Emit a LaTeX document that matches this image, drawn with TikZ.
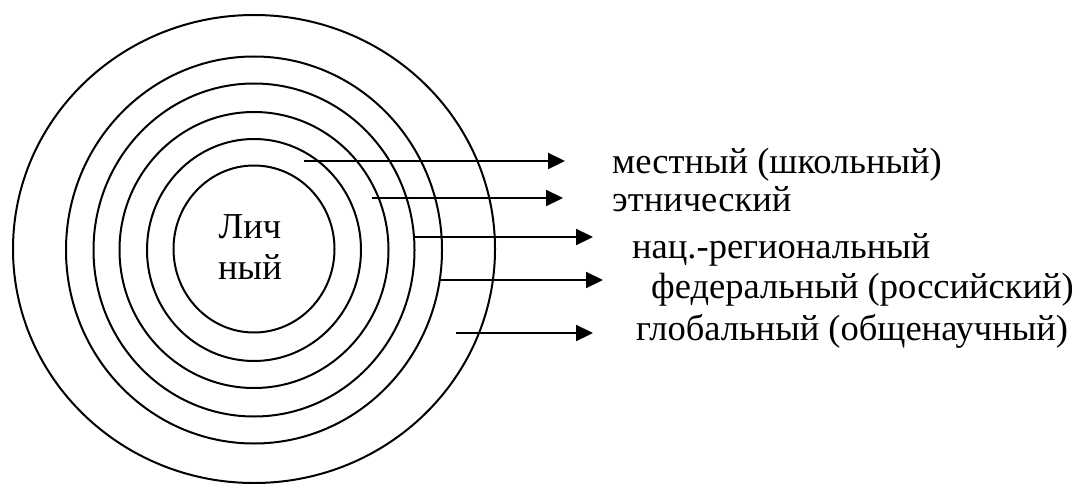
\documentclass[tikz,border=0pt]{standalone}
\usepackage{fontspec}
\setmainfont{Liberation Serif}
\newfontfamily\labelfont{Liberation Serif}
\usetikzlibrary{arrows.meta}

\tikzset{
  ring/.style={draw=black, line width=2pt},
  levelarrow/.style={draw=black, line width=2.2pt,
    -{Triangle[length=17pt,width=16pt]}},
  labeltext/.style={inner sep=0pt,
    font=\labelfont\fontsize{36.5}{41}\selectfont},
  levellabel/.style={labeltext, anchor=base west},
}

\begin{document}
\begin{tikzpicture}[x=1pt, y=-1pt]
  \useasboundingbox (0,0) rectangle (1078,484);

  % concentric levels
  \draw[ring] (254,249) ellipse [x radius=241, y radius=234];
  \draw[ring] (254,250) ellipse [x radius=188, y radius=193.5];
  \draw[ring] (254,250) ellipse [x radius=160.5, y radius=166.5];
  \draw[ring] (254,250) ellipse [x radius=134.5, y radius=138];
  \draw[ring] (254,250) ellipse [x radius=107, y radius=111];
  \draw[ring] (254,249) ellipse [x radius=80.5, y radius=83.5];

  % centre label
  \node[labeltext, align=center] (core) at (250,247) {Лич\\ный};

  % level labels
  \node[levellabel] (local)    at (612,173) {местный (школьный)};
  \node[levellabel] (ethnic)   at (612,211) {этнический};
  \node[levellabel] (regional) at (632,258) {нац.-региональный};
  \node[levellabel] (federal)  at (651,298) {федеральный (российский)};
  \node[levellabel] (global)   at (636,340) {глобальный (общенаучный)};

  % arrow start and end points
  \coordinate (s1) at (304,161); \coordinate (e1) at (565,161);
  \coordinate (s2) at (372,198); \coordinate (e2) at (563,198);
  \coordinate (s3) at (413,237); \coordinate (e3) at (593,237);
  \coordinate (s4) at (439,280); \coordinate (e4) at (603,280);
  \coordinate (s5) at (456,333); \coordinate (e5) at (593,333);

  \draw[levelarrow] (s1) -- (e1);
  \draw[levelarrow] (s2) -- (e2);
  \draw[levelarrow] (s3) -- (e3);
  \draw[levelarrow] (s4) -- (e4);
  \draw[levelarrow] (s5) -- (e5);
\end{tikzpicture}
\end{document}
